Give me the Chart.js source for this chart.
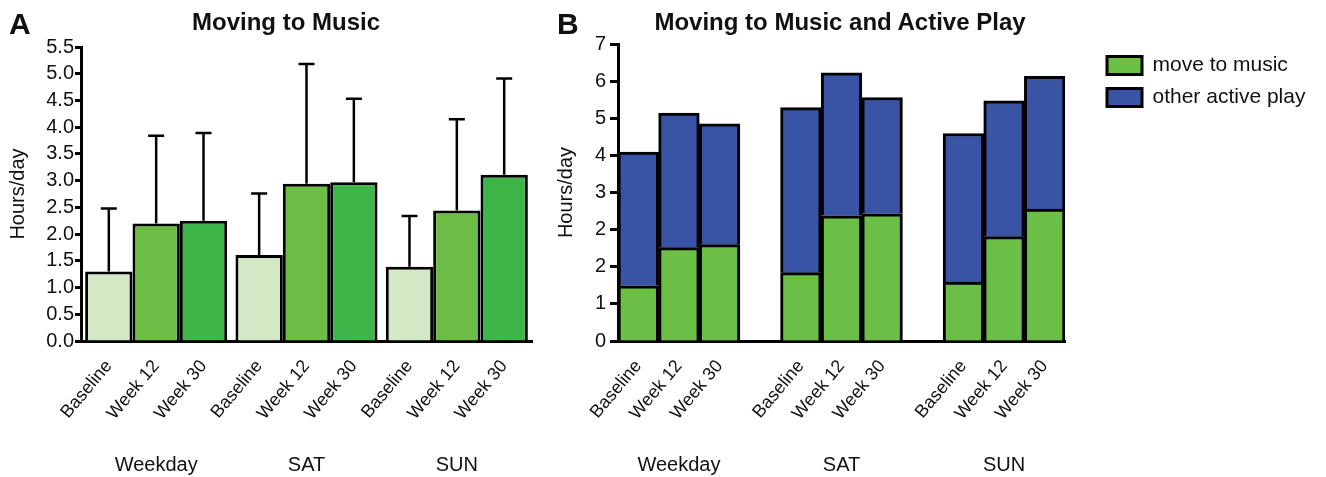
<!DOCTYPE html>
<html>
<head>
<meta charset="utf-8">
<script src="https://cdn.jsdelivr.net/npm/chart.js@4"></script>
<style>
  html, body { margin: 0; padding: 0; background: #fff; overflow: hidden; }
  body { width: 1326px; height: 477px; position: relative; font-family: "Liberation Sans", Arial, sans-serif; color: #111; }
  .panel { position: absolute; top: 0; height: 477px; }
  #boxA { left: 0; width: 540px; }
  #boxB { left: 540px; width: 786px; }
  .tag { position: absolute; top: 7px; font-weight: bold; font-size: 30px; line-height: 34px; }
  .head { position: absolute; top: 8px; width: 600px; margin-left: -300px; text-align: center;
          font-weight: bold; font-size: 24px; line-height: 28px; }
</style>
</head>
<body>
<div class="panel" id="boxA"><canvas id="chartA"></canvas></div>
<div class="panel" id="boxB"><canvas id="chartB"></canvas></div>
<div class="tag" style="left:9px">A</div>
<div class="tag" style="left:557px">B</div>
<div class="head" style="left:286px">Moving to Music</div>
<div class="head" style="left:840px">Moving to Music and Active Play</div>
<script>
// Two panels: A = moving to music (with SD), B = music + other active play (stacked)

const groups = ['Weekday', 'SAT', 'SUN'];
const timepoints = ['Baseline', 'Week 12', 'Week 30'];

// panel A, one value per group
const baselineA = [1.30, 1.61, 1.39];
const week12A = [2.20, 2.94, 2.44];
const week30A = [2.25, 2.97, 3.11];
// top of the upper error bar
const baselineErrTop = [2.48, 2.76, 2.34];
const week12ErrTop = [3.84, 5.18, 4.15];
const week30ErrTop = [3.89, 4.53, 4.91];

// panel B, bar order: Weekday (Baseline, Wk12, Wk30), SAT (...), SUN (...)
const moveToMusic = [1.30, 2.20, 2.27, 1.61, 2.95, 3.00, 1.39, 2.46, 3.11];
const otherActivePlay = [3.15, 3.17, 2.85, 3.89, 3.37, 2.74, 3.50, 3.20, 3.13];
const yTickLabelsB = ['0', '1', '2', '2', '3', '4', '5', '6', '7'];

const INK = '#111';
Chart.defaults.font.family = '"Liberation Sans", Arial, sans-serif';
Chart.defaults.color = INK;

// ---------- panel A ----------

// upper-only error bars with caps
const errorBars = {
  id: 'errorBars',
  afterDatasetsDraw(chart) {
    const ctx = chart.ctx;
    const y = chart.scales.y;
    ctx.save();
    ctx.strokeStyle = '#000';
    ctx.lineWidth = 2.5;
    chart.data.datasets.forEach((ds, di) => {
      chart.getDatasetMeta(di).data.forEach((bar, i) => {
        const top = y.getPixelForValue(ds.errTop[i]);
        ctx.beginPath();
        ctx.moveTo(bar.x, bar.y);
        ctx.lineTo(bar.x, top);
        ctx.moveTo(bar.x - 8, top);
        ctx.lineTo(bar.x + 8, top);
        ctx.stroke();
      });
    });
    ctx.restore();
  }
};

// rotated timepoint names under each bar (same placement as chart.js rotated ticks)
const barNames = {
  id: 'barNames',
  afterDraw(chart) {
    const ctx = chart.ctx;
    const rot = -50 * Math.PI / 180;
    const size = 18, lh = size * 1.2;
    ctx.save();
    ctx.font = size + 'px "Liberation Sans", Arial, sans-serif';
    ctx.fillStyle = INK;
    ctx.textAlign = 'right';
    ctx.textBaseline = 'middle';
    chart.data.datasets.forEach((ds, di) => {
      chart.getDatasetMeta(di).data.forEach(bar => {
        ctx.save();
        ctx.translate(bar.x + (lh / 2) * Math.sin(rot), chart.chartArea.bottom + 15);
        ctx.rotate(rot);
        ctx.fillText(ds.label, 0, lh / 2);
        ctx.restore();
      });
    });
    ctx.restore();
  }
};

new Chart(document.getElementById('chartA'), {
  type: 'bar',
  data: {
    labels: groups,
    datasets: [
      { label: timepoints[0], data: baselineA, errTop: baselineErrTop, backgroundColor: '#d3e8c5' },
      { label: timepoints[1], data: week12A, errTop: week12ErrTop, backgroundColor: '#6cbd45' },
      { label: timepoints[2], data: week30A, errTop: week30ErrTop, backgroundColor: '#3eb549' }
    ]
  },
  options: {
    responsive: true,
    maintainAspectRatio: false,
    animation: false,
    layout: { padding: { left: 0, right: 8, top: 47, bottom: 0 } },
    datasets: { bar: { borderColor: '#000', borderWidth: 3, categoryPercentage: 0.945, barPercentage: 1 } },
    scales: {
      // axis line + room for the rotated bar names
      x: {
        grid: { display: false, drawTicks: false },
        border: { color: '#000', width: 3 },
        ticks: { display: false },
        afterFit: s => { s.height = 106; }
      },
      // group names underneath
      x2: {
        type: 'category', axis: 'x', position: 'bottom', offset: true,
        labels: groups,
        grid: { display: false, drawTicks: false },
        border: { display: false },
        ticks: { padding: 6, maxRotation: 0, font: { size: 20 } },
        afterFit: s => { s.height = 30; }
      },
      y: {
        min: 0, max: 5.5,
        ticks: { stepSize: 0.5, autoSkip: false, padding: 1, font: { size: 20 }, callback: v => v.toFixed(1) },
        grid: { drawOnChartArea: false, tickLength: 6, tickWidth: 3, tickColor: '#000' },
        border: { color: '#000', width: 3 },
        title: { display: true, text: 'Hours/day', font: { size: 20 }, padding: { top: 6, bottom: 0 } },
        afterFit: s => { s.width = 81; }
      }
    },
    plugins: {
      legend: { display: false },
      tooltip: { enabled: false }
    }
  },
  plugins: [errorBars, barNames]
});

// ---------- panel B ----------

// 11 slots: three bars per group with an empty slot between groups
const slotNames = [], slotGroups = [], slotMusic = [], slotOther = [];
groups.forEach((g, gi) => {
  if (gi > 0) {
    slotNames.push(''); slotGroups.push(''); slotMusic.push(null); slotOther.push(null);
  }
  timepoints.forEach((t, ti) => {
    slotNames.push(t);
    slotGroups.push(ti === 1 ? g : '');
    slotMusic.push(moveToMusic[gi * 3 + ti]);
    slotOther.push(otherActivePlay[gi * 3 + ti]);
  });
});

// legend gets a fixed width so it is not squeezed by the layout
const legendWidthB = 230;
const legendRoom = {
  id: 'legendRoom',
  afterInit(chart) {
    const legend = chart.legend;
    const fit = legend.fit;
    legend.fit = function () {
      fit.call(this);
      this.width = legendWidthB;
    };
  }
};

new Chart(document.getElementById('chartB'), {
  type: 'bar',
  data: {
    labels: slotNames,
    datasets: [
      { label: 'move to music', data: slotMusic, backgroundColor: '#6cbf46' },
      { label: 'other active play', data: slotOther, backgroundColor: '#3a54a5' }
    ]
  },
  options: {
    responsive: true,
    maintainAspectRatio: false,
    animation: false,
    layout: { padding: { left: 0, right: 0, top: 44, bottom: 0 } },
    datasets: { bar: { borderColor: '#000', borderWidth: 3, categoryPercentage: 1, barPercentage: 1 } },
    scales: {
      x: {
        stacked: true,
        grid: { display: false, drawTicks: false },
        border: { color: '#000', width: 3 },
        ticks: { autoSkip: false, minRotation: 50, maxRotation: 50, padding: 15, font: { size: 18 } },
        afterFit: s => { s.height = 95; }
      },
      x2: {
        type: 'category', axis: 'x', position: 'bottom', offset: true,
        labels: slotGroups,
        grid: { display: false, drawTicks: false },
        border: { display: false },
        ticks: { autoSkip: false, maxRotation: 0, padding: 17, font: { size: 20 } },
        afterFit: s => { s.height = 41; }
      },
      y: {
        stacked: true,
        min: 0, max: 7,
        ticks: { stepSize: 0.875, autoSkip: false, padding: 4, font: { size: 20 }, callback: (v, i) => yTickLabelsB[i] },
        grid: { drawOnChartArea: false, tickLength: 8, tickWidth: 3, tickColor: '#000' },
        border: { color: '#000', width: 3 },
        title: { display: true, text: 'Hours/day', font: { size: 20 }, padding: { top: 14, bottom: 0 } },
        afterFit: s => { s.width = 78; }
      },
      // empty spacer between plot and legend
      gap: {
        type: 'linear', axis: 'y', position: 'right',
        grid: { display: false }, border: { display: false }, ticks: { display: false },
        afterFit: s => { s.width = 31; }
      }
    },
    plugins: {
      tooltip: { enabled: false },
      legend: {
        position: 'right', align: 'start', fullSize: false,
        labels: { boxWidth: 35, boxHeight: 18, padding: 11, font: { size: 21 }, color: INK }
      }
    }
  },
  plugins: [legendRoom]
});
</script>
</body>
</html>
